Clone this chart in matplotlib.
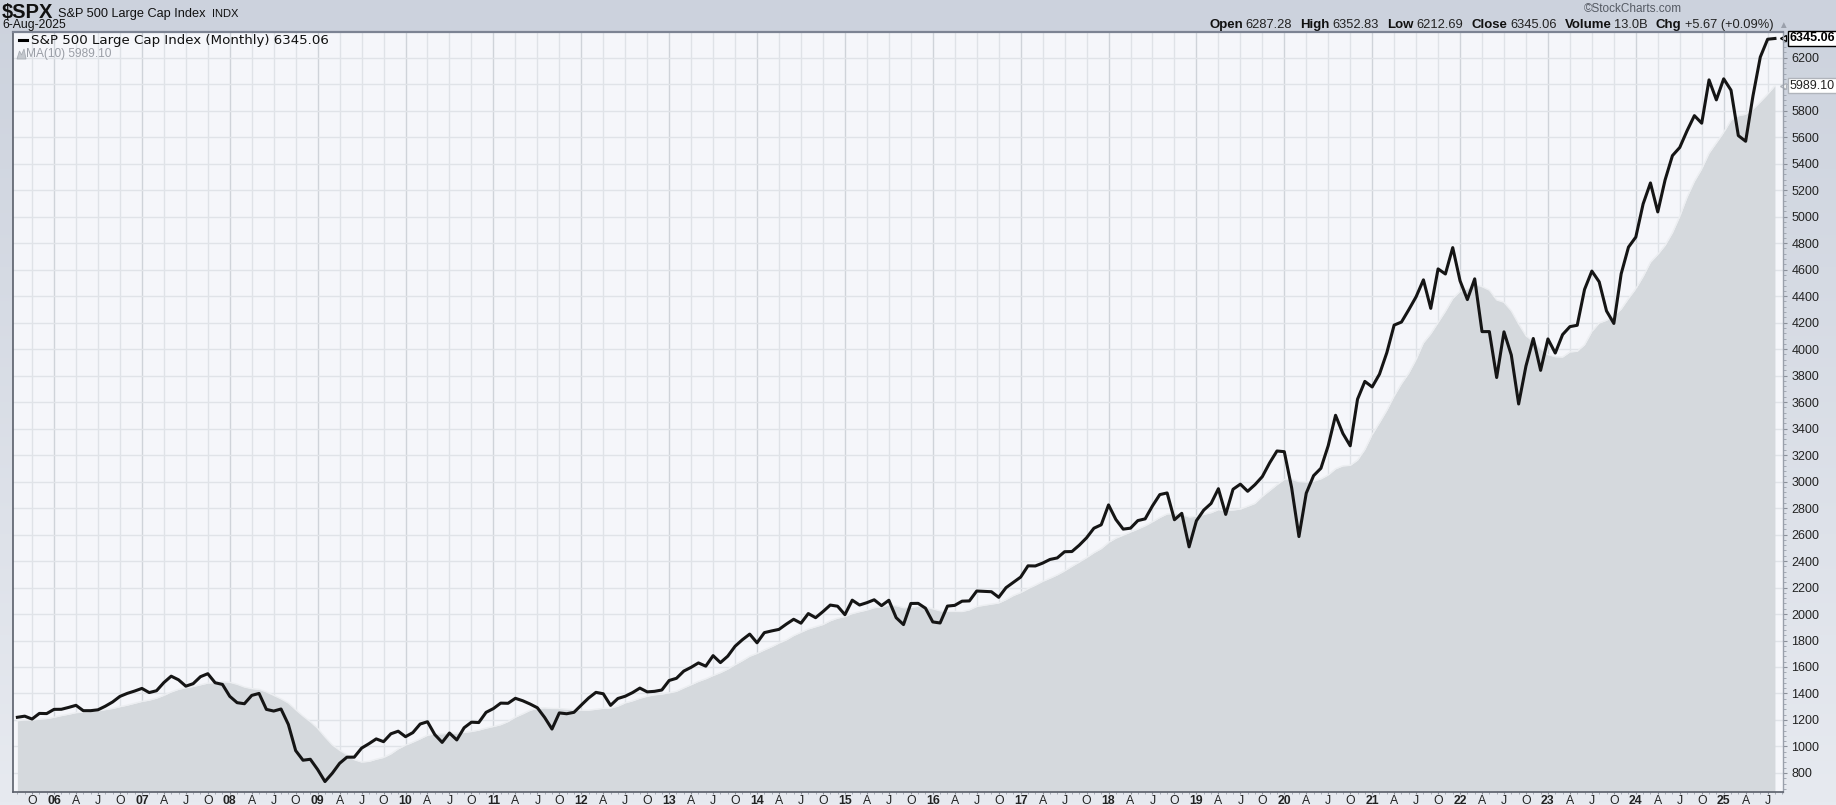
import matplotlib
matplotlib.use('Agg')
import matplotlib.pyplot as plt
import numpy as np
import pandas as pd
from matplotlib.lines import Line2D
from matplotlib.patches import Polygon
from matplotlib.ticker import FixedLocator, MultipleLocator
import matplotlib.transforms as mtransforms

plt.rcParams['font.family'] = ['Liberation Sans', 'DejaVu Sans']

# S&P 500 monthly closes, first point is Aug 2005, last is Aug 2025
first_month = '2005-08-01'
monthly_close = [
    1220.33, 1228.81, 1207.01, 1249.48, 1248.29,
    1280.08, 1280.66, 1294.83, 1310.61, 1270.09, 1270.20, 1276.66, 1303.82, 1335.85, 1377.94, 1400.63, 1418.30,
    1438.24, 1406.82, 1420.86, 1482.37, 1530.62, 1503.35, 1455.27, 1473.99, 1526.75, 1549.38, 1481.14, 1468.36,
    1378.55, 1330.63, 1322.70, 1385.59, 1400.38, 1280.00, 1267.38, 1282.83, 1166.36, 968.75, 896.24, 903.25,
    825.88, 735.09, 797.87, 872.81, 919.14, 919.32, 987.48, 1020.62, 1057.08, 1036.19, 1095.63, 1115.10,
    1073.87, 1104.49, 1169.43, 1186.69, 1089.41, 1030.71, 1101.60, 1049.33, 1141.20, 1183.26, 1180.55, 1257.64,
    1286.12, 1327.22, 1325.83, 1363.61, 1345.20, 1320.64, 1292.28, 1218.89, 1131.42, 1253.30, 1246.96, 1257.60,
    1312.41, 1365.68, 1408.47, 1397.91, 1310.33, 1362.16, 1379.32, 1406.58, 1440.67, 1412.16, 1416.18, 1426.19,
    1498.11, 1514.68, 1569.19, 1597.57, 1630.74, 1606.28, 1685.73, 1632.97, 1681.55, 1756.54, 1805.81, 1848.36,
    1782.59, 1859.45, 1872.34, 1883.95, 1923.57, 1960.23, 1930.67, 2003.37, 1972.29, 2018.05, 2067.56, 2058.90,
    1994.99, 2104.50, 2067.89, 2085.51, 2107.39, 2063.11, 2103.84, 1972.18, 1920.03, 2079.36, 2080.41, 2043.94,
    1940.24, 1932.23, 2059.74, 2065.30, 2096.95, 2098.86, 2173.60, 2170.95, 2168.27, 2126.15, 2198.81, 2238.83,
    2278.87, 2363.64, 2362.72, 2384.20, 2411.80, 2423.41, 2470.30, 2471.65, 2519.36, 2575.26, 2647.58, 2673.61,
    2823.81, 2713.83, 2640.87, 2648.05, 2705.27, 2718.37, 2816.29, 2901.52, 2913.98, 2711.74, 2760.17, 2506.85,
    2704.10, 2784.49, 2834.40, 2945.83, 2752.06, 2941.76, 2980.38, 2926.46, 2976.74, 3037.56, 3140.98, 3230.78,
    3225.52, 2954.22, 2584.59, 2912.43, 3044.31, 3100.29, 3271.12, 3500.31, 3363.00, 3269.96, 3621.63, 3756.07,
    3714.24, 3811.15, 3972.89, 4181.17, 4204.11, 4297.50, 4395.26, 4522.68, 4307.54, 4605.38, 4567.00, 4766.18,
    4515.55, 4373.94, 4530.41, 4131.93, 4132.15, 3785.38, 4130.29, 3955.00, 3585.62, 3871.98, 4080.11, 3839.50,
    4076.60, 3970.15, 4109.31, 4169.48, 4179.83, 4450.38, 4588.96, 4507.66, 4288.05, 4193.80, 4567.80, 4769.83,
    4845.65, 5096.27, 5254.35, 5035.69, 5277.51, 5460.48, 5522.30, 5648.40, 5762.48, 5705.45, 6032.38, 5881.63,
    6040.53, 5954.50, 5611.85, 5569.06, 5911.69, 6204.95, 6339.39, 6345.06,
]
# nine closes before the window (Nov 2004 - Jul 2005), only used for the MA(10)
earlier_close = [1173.82, 1211.92, 1181.27, 1203.60, 1180.59, 1156.85, 1191.50, 1191.33, 1234.18]

price_ticks = list(range(800, 6201, 200))
month_letters = {4: 'A', 7: 'J', 10: 'O'}

ohlc_fields = [('Open', '6287.28'), ('High', '6352.83'), ('Low', '6212.69'),
               ('Close', '6345.06'), ('Volume', '13.0B'), ('Chg', '+5.67 (+0.09%)')]

W, H = 1836, 805


def px(x, y):
    return x / W, 1 - y / H


dates = pd.date_range(first_month, periods=len(monthly_close), freq='MS')
x = np.arange(len(dates))
ma10 = pd.Series(earlier_close + monthly_close).rolling(10).mean().iloc[len(earlier_close):].values
last_close = monthly_close[-1]
last_ma = ma10[-1]

fig = plt.figure(figsize=(W / 100, H / 100), dpi=100)

# bluish page background
bg = fig.add_axes([0, 0, 1, 1], zorder=-5)
grad = np.linspace(0, 1, 256)[:, None]
top_c = np.array([0xcc, 0xd2, 0xdd]) / 255
bot_c = np.array([0xe7, 0xea, 0xf0]) / 255
img = top_c[None, None, :] * (1 - grad[:, :, None]) + bot_c[None, None, :] * grad[:, :, None]
bg.imshow(img, aspect='auto', extent=[0, 1, 0, 1])
bg.axis('off')

left, right = px(13, 0)[0], px(1783, 0)[0]
bottom, top = px(0, 791.5)[1], px(0, 31.6)[1]
ax = fig.add_axes([left, bottom, right - left, top - bottom])
ax.set_facecolor('#f5f6fa')

ax.set_xlim(-0.6, 241.1)
ax.set_ylim(660, 6397)

# grid
quarter_idx = [i for i, d in enumerate(dates) if d.month in (1, 4, 7, 10)]
for i in quarter_idx:
    col = '#cfd3d9' if dates[i].month == 1 else '#dfe2e7'
    ax.axvline(i, color=col, lw=1, zorder=0)
for p in price_ticks:
    ax.axhline(p, color='#e0e3e8', lw=1, zorder=0)

ax.fill_between(x, ma10, 0, color='#d5d9dd', lw=0, zorder=1)
ax.plot(x, ma10, color='#eceef1', lw=1.0, zorder=1.5)
ax.plot(x, monthly_close, color='#151515', lw=2.2, solid_joinstyle='round', zorder=3)

# axes frame
for side in ['left', 'bottom']:
    ax.spines[side].set_color('#5a5f6a')
    ax.spines[side].set_linewidth(1.2)
ax.spines['top'].set_color('#7c8393')
ax.spines['top'].set_linewidth(1.6)
ax.spines['right'].set_color('#9aa0ab')
ax.spines['right'].set_linewidth(1.0)

# y axis on the right
ax.yaxis.tick_right()
ax.yaxis.set_major_locator(FixedLocator(price_ticks))
ax.set_yticklabels(['' if p == 6000 else str(p) for p in price_ticks])
ax.yaxis.set_minor_locator(MultipleLocator(40))
ax.tick_params(axis='y', which='major', length=3, pad=3, labelsize=9, colors='#8a8f99', labelcolor='#222222')
ax.tick_params(axis='y', which='minor', length=2, colors='#9aa0ab')

# x axis: quarter labels, year in bold
ax.xaxis.set_major_locator(FixedLocator(quarter_idx))
labels = [d.strftime('%y') if d.month == 1 else month_letters[d.month] for d in dates[quarter_idx]]
ax.set_xticklabels(labels)
for lab, i in zip(ax.get_xticklabels(), quarter_idx):
    if dates[i].month == 1:
        lab.set_fontweight('bold')
ax.xaxis.set_minor_locator(MultipleLocator(1))
ax.tick_params(axis='x', which='major', length=1.5, pad=0.8, labelsize=8.8, colors='#8a8f99', labelcolor='#222222')
ax.tick_params(axis='x', which='minor', length=1.5, colors='#9aa0ab')

# value tags at the right edge
blend = mtransforms.blended_transform_factory(ax.transAxes, ax.transData)
ax.annotate(f'{last_close:.2f}', xy=(1, last_close), xycoords=blend, xytext=(5, 0),
            textcoords='offset points', ha='left', va='center', fontsize=9, fontweight='bold',
            bbox=dict(boxstyle='square,pad=0.12', fc='white', ec='black', lw=1), annotation_clip=False)
ax.plot([1.0], [last_close], marker='<', ms=5, mfc='white', mec='black', mew=1, transform=blend, clip_on=False)
ax.annotate(f'{last_ma:.2f}', xy=(1, last_ma), xycoords=blend, xytext=(5, 0),
            textcoords='offset points', ha='left', va='center', fontsize=9, color='#222222',
            bbox=dict(boxstyle='square,pad=0.12', fc='white', ec='#b0b4bb', lw=1), annotation_clip=False)
ax.plot([1.0], [last_ma], marker='<', ms=5, mfc='white', mec='#b0b4bb', mew=1, transform=blend, clip_on=False)

# header
fig.text(*px(2, 18), '$SPX', fontsize=14.5, fontweight='bold', va='baseline', color='#111111')
fig.text(*px(58, 17), 'S&P 500 Large Cap Index', fontsize=9.2, va='baseline', color='#111111')
fig.text(*px(212, 17), 'INDX', fontsize=8, va='baseline', color='#111111')
fig.text(*px(2, 28), '6-Aug-2025', fontsize=8.8, va='baseline', color='#111111')
fig.text(*px(1584, 12.5), '\u00a9StockCharts.com', fontsize=8.5, va='baseline', color='#555a63')

renderer = fig.canvas.get_renderer()
xpos = 1209
for name, val in ohlc_fields:
    t = fig.text(*px(xpos, 28), name, fontsize=9.5, fontweight='bold', va='baseline', color='#111111')
    xpos = t.get_window_extent(renderer).x1 + 3
    t = fig.text(*px(xpos, 28), val, fontsize=9.3, va='baseline', color='#222222')
    xpos = t.get_window_extent(renderer).x1 + 8
fig.text(*px(xpos - 3, 27.5), '\u25b2', fontsize=7, va='baseline', color='#9aa0ab')

# legend inside plot
fig.add_artist(Line2D([19 / W, 27 / W], [1 - 40 / H] * 2, color='black', lw=2.2, transform=fig.transFigure))
fig.text(*px(31, 40.5), 'S&P 500 Large Cap Index (Monthly) 6345.06', fontsize=9.6,
         family=['DejaVu Sans'], va='center', color='#111111')
fig.add_artist(Polygon([px(17, 59), px(19.5, 51), px(21.5, 55), px(24, 49), px(26, 59)],
                       closed=True, fc='#c4c8ce', ec='#a9aeb5', lw=0.6, transform=fig.transFigure))
fig.text(*px(26, 53.5), 'MA(10) 5989.10', fontsize=8.6, va='center', color='#9a9ea6')

fig.savefig('out.png', dpi=100, facecolor=fig.get_facecolor())
